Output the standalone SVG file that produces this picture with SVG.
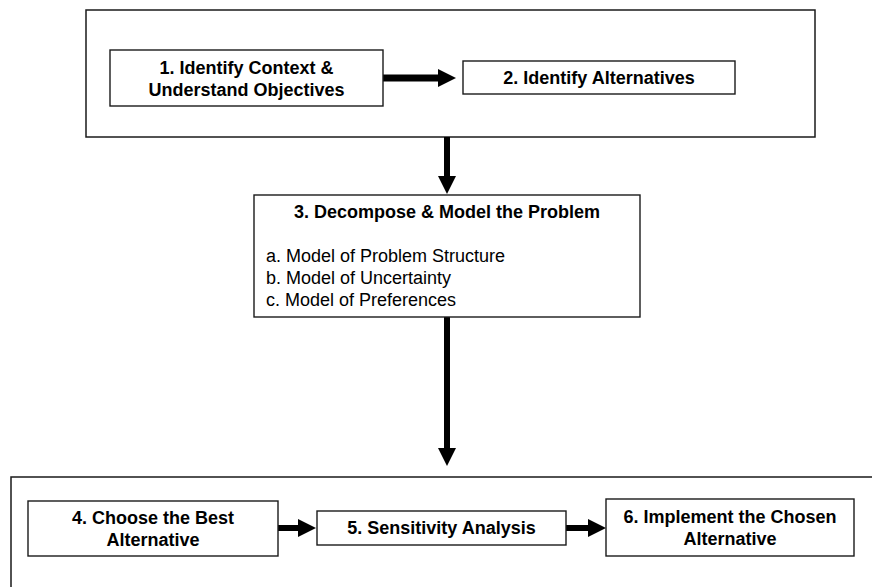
<svg xmlns="http://www.w3.org/2000/svg" width="872" height="587" viewBox="0 0 872 587">
  <style>
    .frame { fill: none; stroke: #1a1a1a; stroke-width: 1.5; }
    .box { fill: #ffffff; stroke: #1a1a1a; stroke-width: 1.4; }
    .t { font-family: "Liberation Sans", Arial, sans-serif; font-size: 18px; font-weight: bold; fill: #000; text-anchor: middle; }
    .item { font-family: "Liberation Sans", Arial, sans-serif; font-size: 18px; fill: #000; }
    .shaft { stroke: #000; fill: none; }
  </style>
  <defs>
    <marker id="ah" viewBox="0 0 18 18" refX="8" refY="9" markerUnits="userSpaceOnUse" markerWidth="18" markerHeight="18" orient="auto">
      <path d="M0,0 L18,9 L0,18 Z" fill="#000"/>
    </marker>
  </defs>

  <rect id="group-top" class="frame" x="86" y="10" width="729" height="127"/>
  <rect id="group-bottom" class="frame" x="11" y="477" width="880" height="150"/>

  <g id="connectors">
    <line class="shaft" x1="383" y1="78" x2="446" y2="78" stroke-width="7" marker-end="url(#ah)"/>
    <line class="shaft" x1="447" y1="137" x2="447" y2="184" stroke-width="6" marker-end="url(#ah)"/>
    <line class="shaft" x1="447" y1="317" x2="447" y2="456" stroke-width="6" marker-end="url(#ah)"/>
    <line class="shaft" x1="278" y1="528" x2="306" y2="528" stroke-width="6" marker-end="url(#ah)"/>
    <line class="shaft" x1="566" y1="528" x2="596" y2="528" stroke-width="6" marker-end="url(#ah)"/>
  </g>

  <g id="node1">
    <rect class="box" x="110" y="50" width="273" height="56"/>
    <text class="t" x="246.5" y="74">1. Identify Context &amp;</text>
    <text class="t" x="246.5" y="96">Understand Objectives</text>
  </g>

  <g id="node2">
    <rect class="box" x="463" y="61" width="272" height="33"/>
    <text class="t" x="599" y="84">2. Identify Alternatives</text>
  </g>

  <g id="node3">
    <rect class="box" x="254" y="195" width="386" height="122"/>
    <text class="t" x="447" y="218">3. Decompose &amp; Model the Problem</text>
    <text class="item" x="266" y="262">a. Model of Problem Structure</text>
    <text class="item" x="266" y="284">b. Model of Uncertainty</text>
    <text class="item" x="266" y="306">c. Model of Preferences</text>
  </g>

  <g id="node4">
    <rect class="box" x="28" y="501" width="250" height="55"/>
    <text class="t" x="153" y="524">4. Choose the Best</text>
    <text class="t" x="153" y="546">Alternative</text>
  </g>

  <g id="node5">
    <rect class="box" x="317" y="511" width="249" height="34"/>
    <text class="t" x="441.5" y="534">5. Sensitivity Analysis</text>
  </g>

  <g id="node6">
    <rect class="box" x="606" y="499" width="248" height="57"/>
    <text class="t" x="730" y="523">6. Implement the Chosen</text>
    <text class="t" x="730" y="545">Alternative</text>
  </g>
</svg>
